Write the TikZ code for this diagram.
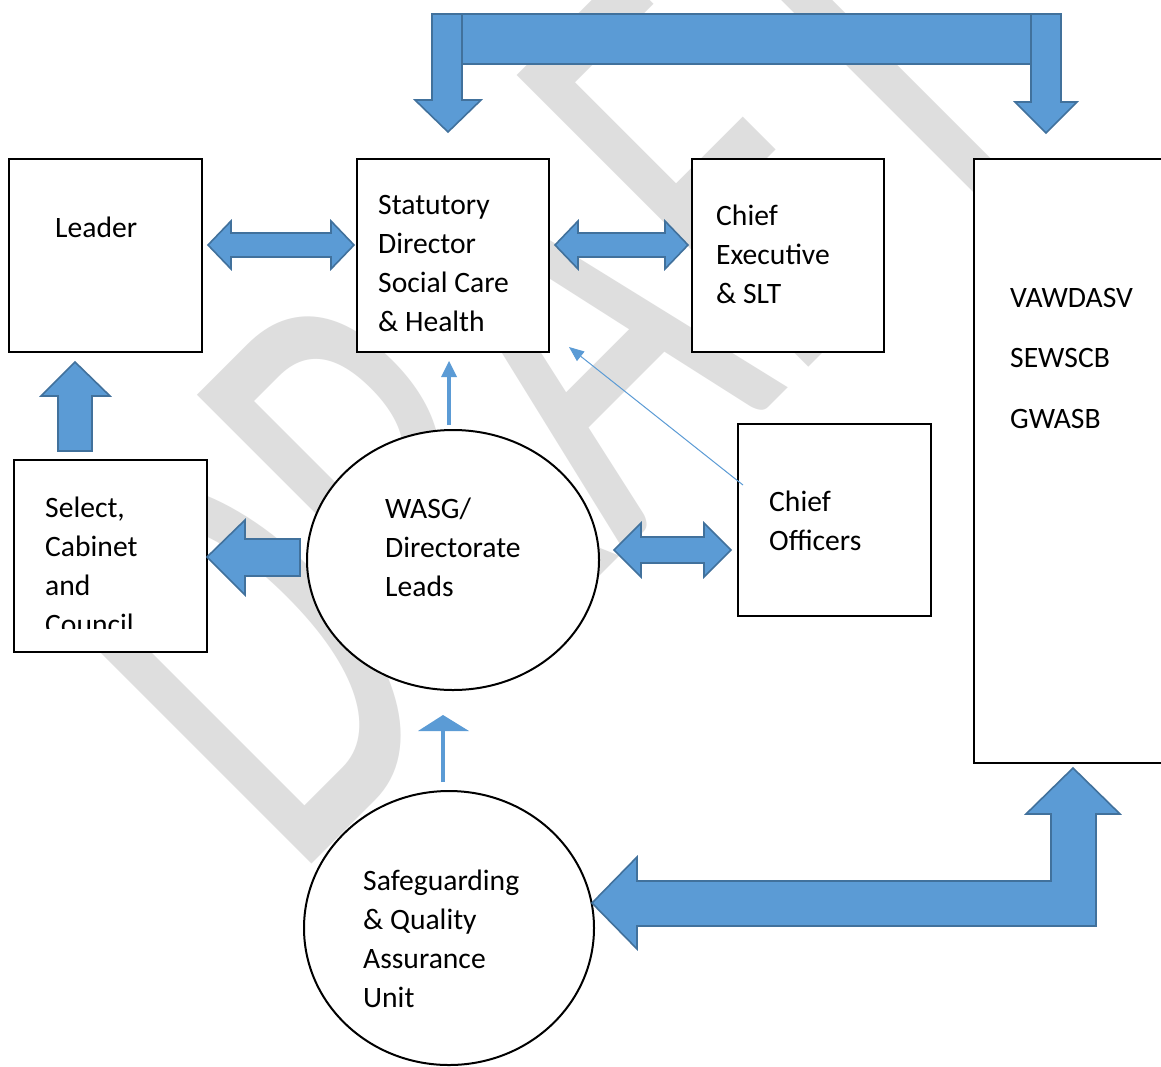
\documentclass[tikz,border=0pt]{standalone}
\usepackage{fontspec}
\setmainfont{Carlito}
\usetikzlibrary{arrows.meta}
\definecolor{arrfill}{HTML}{5B9BD5}
\definecolor{arredge}{HTML}{41719C}
\definecolor{wmark}{HTML}{DEDEDE}
\newcommand{\txtlines}[1]{\begin{tabular}[t]{@{}l@{}}#1\end{tabular}}
\begin{document}
\begin{tikzpicture}[x=1pt,y=-1pt,
  box/.style={draw=black, line width=2.4pt, fill=white, inner sep=0pt, anchor=north west},
  blk/.style={fill=arrfill, draw=arredge, line width=1.6pt, line join=miter},
  lbl/.style={anchor=base west, inner sep=0pt, font=\fontsize{29.6}{39}\selectfont},
  thinarr/.style={draw=arrfill, line width=#1},
  tiphead/.style={fill=arrfill}
]
\useasboundingbox (0,0) rectangle (1161,1066);
\clip (0,0) rectangle (1161,1066);
\fill[white] (0,0) rectangle (1161,1066);

% watermark
\node[text=wmark, rotate=45, xscale=0.63, anchor=base west, inner sep=0pt,
      font=\fontsize{643}{643}\selectfont] (wm) at (292,884) {DRAFT};

% boxes
\node[box, minimum width=193pt, minimum height=193pt] (lead) at (8,158) {};
\node[box, minimum width=192pt, minimum height=193pt] (stat) at (356,158) {};
\node[box, minimum width=192pt, minimum height=193pt] (ceo) at (691,158) {};
\node[box, minimum width=220pt, minimum height=604pt] (vaw) at (973,158) {};
\node[box, minimum width=193pt, minimum height=192pt] (sel) at (13,459) {};
\node[box, minimum width=193pt, minimum height=192pt] (cof) at (737,423) {};

% ovals
\draw[line width=2pt, fill=white] (453,560) ellipse [x radius=146, y radius=130];
\coordinate (wasg) at (453,560);
\draw[line width=2pt, fill=white] (449,928) ellipse [x radius=145, y radius=137];
\coordinate (sqa) at (449,928);

% labels
\node[lbl] (tlead) at (55,237) {Leader};
\node[lbl] (tstat) at (378,214) {\txtlines{Statutory\\Director\\Social Care\\\& Health}};
\node[lbl] (tceo) at (716,225) {\txtlines{Chief\\Executive\\\& SLT}};
\node[lbl] (tvaw) at (1010,307) {\txtlines{VAWDASV\\[21.5pt]SEWSCB\\[21.5pt]GWASB}};
\begin{scope}
  \clip (13,459) rectangle (206,628);
  \node[lbl] (tsel) at (45,517) {\txtlines{Select,\\Cabinet\\and\\Council}};
\end{scope}
\node[lbl] (twasg) at (385,518) {\txtlines{WASG/\\Directorate\\Leads}};
\node[lbl] (tcof) at (769,511) {\txtlines{Chief\\Officers}};
\node[lbl] (tsqa) at (363,890) {\txtlines{Safeguarding\\\& Quality\\Assurance\\Unit}};

% block arrows
% Leader <-> Statutory Director
\draw[blk] (208,245) -- (231,221) -- (231,233) -- (331,233) -- (331,221) -- (354,245)
  -- (331,269) -- (331,257) -- (231,257) -- (231,269) -- cycle;
% Statutory Director <-> Chief Executive
\draw[blk] (555,245) -- (578,221) -- (578,233) -- (665,233) -- (665,221) -- (688,245)
  -- (665,269) -- (665,257) -- (578,257) -- (578,269) -- cycle;
% Select, Cabinet and Council -> Leader
\draw[blk] (75,362) -- (110,396) -- (92,396) -- (92,451) -- (58,451) -- (58,396) -- (41,396) -- cycle;
% WASG -> Select, Cabinet and Council
\draw[blk] (207,557) -- (245,520) -- (245,539) -- (300,539) -- (300,576) -- (245,576) -- (245,595) -- cycle;
% WASG <-> Chief Officers
\draw[blk] (614,550) -- (641,523) -- (641,537) -- (704,537) -- (704,523) -- (731,550)
  -- (704,577) -- (704,563) -- (641,563) -- (641,577) -- cycle;
% top link down to Statutory Director and the boards
\draw[blk] (432,14) -- (462,14) -- (462,100) -- (481,100) -- (448,132) -- (415,100) -- (432,100) -- cycle;
\draw[blk] (1031,14) -- (1061,14) -- (1061,102) -- (1077,102) -- (1046,133) -- (1015,102) -- (1031,102) -- cycle;
\draw[blk] (462,14) rectangle (1031,64);
% boards <-> Safeguarding unit
\draw[blk] (592,903) -- (637,857) -- (637,881) -- (1051,881) -- (1051,814) -- (1026,814) -- (1073,768)
  -- (1120,814) -- (1096,814) -- (1096,926) -- (637,926) -- (637,949) -- cycle;

% thin connectors
\coordinate (w1) at (449,425);
\coordinate (s1) at (449,361);
\draw[thinarr=3.5pt] (w1) -- (449,374);
\fill[tiphead] (s1) -- (457,377) -- (441,377) -- cycle;

\coordinate (c1) at (743,485);
\coordinate (s2) at (569,347);
\draw[thinarr=1pt, -{Triangle[length=15pt,width=12pt]}, arrfill] (c1) -- (s2);

\coordinate (q1) at (443,782);
\coordinate (w2) at (443,715);
\draw[thinarr=4pt] (q1) -- (443,729);
\fill[tiphead] (w2) -- (469,731) -- (418,731) -- cycle;
\end{tikzpicture}
\end{document}
